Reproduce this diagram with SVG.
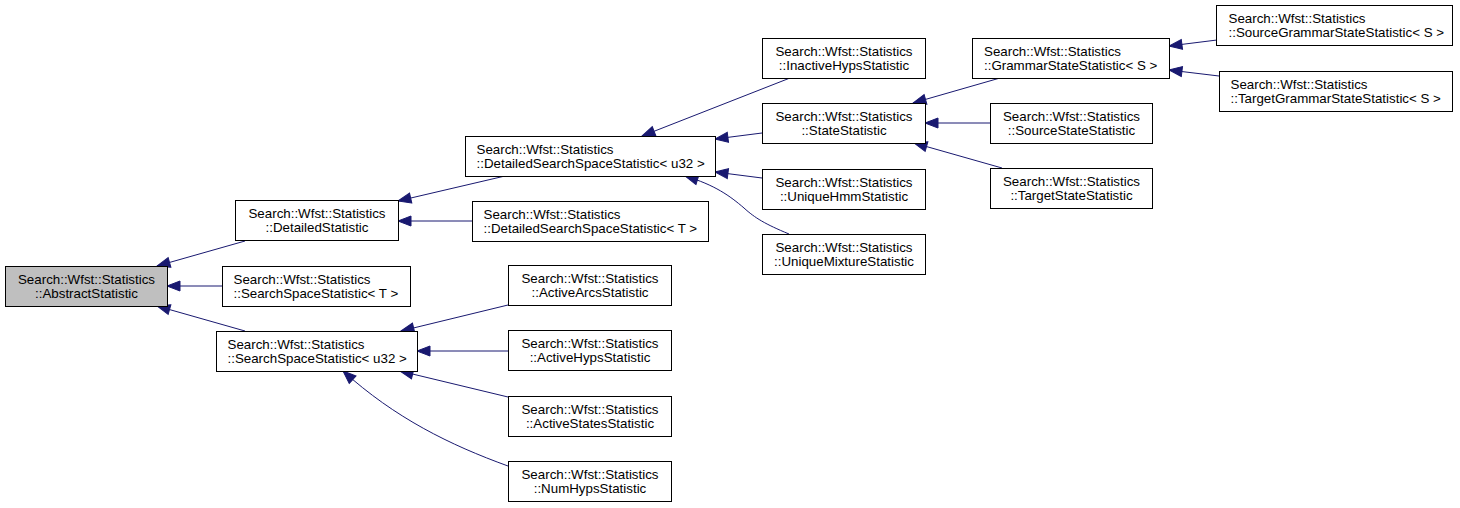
<svg xmlns="http://www.w3.org/2000/svg" width="1460" height="508" viewBox="0 0 1460 508">
<style>
rect{fill:#fff;stroke:#000;stroke-width:1}
rect.root{fill:#bfbfbf}
text{font-family:"Liberation Sans",Arial,sans-serif;font-size:13.33px;fill:#000}
text.c{text-anchor:middle}
#edges path{fill:none;stroke:#191970;stroke-width:1;marker-end:url(#ah)}
</style>
<defs>
<marker id="ah" markerUnits="userSpaceOnUse" markerWidth="16" markerHeight="12" viewBox="0 -6 14 12" refX="13" refY="0" orient="auto">
<path d="M0,-5 L13,0 L0,5 z" fill="#191970" stroke="#191970" stroke-width="1"/>
</marker>
</defs>
<rect x="0" y="0" width="1460" height="508" style="fill:#fff;stroke:none"/>
<g id="edges">
<path d="M245,241 L157,266"/>
<path d="M222,286 L167,286"/>
<path d="M245,331 L157,306"/>
<path d="M505,176 L398,201"/>
<path d="M472,221 L398,221"/>
<path d="M790,78 L642,136"/>
<path d="M762,133 L715,139"/>
<path d="M762,178 L715,172"/>
<path d="M789,234 C765,224 755,218 744,208 C730,196 715,185 685,176"/>
<path d="M1000,78 L913,103"/>
<path d="M990,123 L925,123"/>
<path d="M1002,168 L914,143"/>
<path d="M1217,40 L1169,46"/>
<path d="M1219,76 L1169,70"/>
<path d="M508,305 L401,331"/>
<path d="M508,351 L417,351"/>
<path d="M508,397 L400,371"/>
<path d="M508,466 C450,445 395,418 343,371"/>
</g>
<g id="n_abstract"><rect class="root" x="5.5" y="266.5" width="162" height="40"/><text class="c" x="86.5" y="283.5">Search::Wfst::Statistics</text><text class="c" x="86.5" y="297.5">::AbstractStatistic</text></g>
<g id="n_detailed"><rect x="235.5" y="200.5" width="163" height="40"/><text class="c" x="317" y="217.5">Search::Wfst::Statistics</text><text class="c" x="317" y="231.5">::DetailedStatistic</text></g>
<g id="n_sst"><rect x="222.5" y="266.5" width="188" height="40"/><text x="233.5" y="283.5">Search::Wfst::Statistics</text><text x="233.5" y="297.5">::SearchSpaceStatistic&lt; T &gt;</text></g>
<g id="n_ssu32"><rect x="216.5" y="331.5" width="201" height="40"/><text x="227.5" y="348.5">Search::Wfst::Statistics</text><text x="227.5" y="362.5">::SearchSpaceStatistic&lt; u32 &gt;</text></g>
<g id="n_dssu32"><rect x="465.5" y="136.5" width="250" height="40"/><text x="476.5" y="153.5">Search::Wfst::Statistics</text><text x="476.5" y="167.5">::DetailedSearchSpaceStatistic&lt; u32 &gt;</text></g>
<g id="n_dsst"><rect x="472.5" y="201.5" width="236" height="40"/><text x="483.5" y="218.5">Search::Wfst::Statistics</text><text x="483.5" y="232.5">::DetailedSearchSpaceStatistic&lt; T &gt;</text></g>
<g id="n_inactive"><rect x="762.5" y="38.5" width="163" height="40"/><text class="c" x="844" y="55.5">Search::Wfst::Statistics</text><text class="c" x="844" y="69.5">::InactiveHypsStatistic</text></g>
<g id="n_state"><rect x="762.5" y="103.5" width="163" height="40"/><text class="c" x="844" y="120.5">Search::Wfst::Statistics</text><text class="c" x="844" y="134.5">::StateStatistic</text></g>
<g id="n_hmm"><rect x="762.5" y="169.5" width="163" height="40"/><text class="c" x="844" y="186.5">Search::Wfst::Statistics</text><text class="c" x="844" y="200.5">::UniqueHmmStatistic</text></g>
<g id="n_mixture"><rect x="762.5" y="234.5" width="163" height="40"/><text class="c" x="844" y="251.5">Search::Wfst::Statistics</text><text class="c" x="844" y="265.5">::UniqueMixtureStatistic</text></g>
<g id="n_grammar"><rect x="972.5" y="38.5" width="197" height="40"/><text x="984" y="55.5">Search::Wfst::Statistics</text><text x="984" y="69.5">::GrammarStateStatistic&lt; S &gt;</text></g>
<g id="n_srcstate"><rect x="990.5" y="103.5" width="162" height="40"/><text class="c" x="1071.5" y="120.5">Search::Wfst::Statistics</text><text class="c" x="1071.5" y="134.5">::SourceStateStatistic</text></g>
<g id="n_tgtstate"><rect x="990.5" y="168.5" width="162" height="40"/><text class="c" x="1071.5" y="185.5">Search::Wfst::Statistics</text><text class="c" x="1071.5" y="199.5">::TargetStateStatistic</text></g>
<g id="n_srcgrammar"><rect x="1216.5" y="5.5" width="236" height="40"/><text x="1228.5" y="22.5">Search::Wfst::Statistics</text><text x="1228.5" y="36.5">::SourceGrammarStateStatistic&lt; S &gt;</text></g>
<g id="n_tgtgrammar"><rect x="1219.5" y="71.5" width="233" height="40"/><text x="1230.5" y="88.5">Search::Wfst::Statistics</text><text x="1230.5" y="102.5">::TargetGrammarStateStatistic&lt; S &gt;</text></g>
<g id="n_arcs"><rect x="508.5" y="265.5" width="163" height="40"/><text class="c" x="590" y="282.5">Search::Wfst::Statistics</text><text class="c" x="590" y="296.5">::ActiveArcsStatistic</text></g>
<g id="n_ahyps"><rect x="508.5" y="330.5" width="163" height="40"/><text class="c" x="590" y="347.5">Search::Wfst::Statistics</text><text class="c" x="590" y="361.5">::ActiveHypsStatistic</text></g>
<g id="n_astates"><rect x="508.5" y="396.5" width="163" height="40"/><text class="c" x="590" y="413.5">Search::Wfst::Statistics</text><text class="c" x="590" y="427.5">::ActiveStatesStatistic</text></g>
<g id="n_numhyps"><rect x="508.5" y="461.5" width="163" height="40"/><text class="c" x="590" y="478.5">Search::Wfst::Statistics</text><text class="c" x="590" y="492.5">::NumHypsStatistic</text></g>
</svg>
